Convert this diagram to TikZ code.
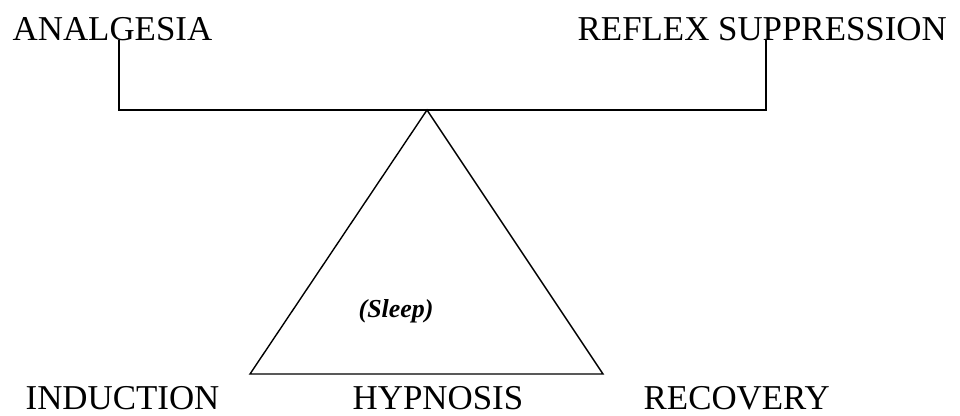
\documentclass[tikz,border=0pt]{standalone}
\usepackage{fontspec}
\setmainfont{Liberation Serif}
\begin{document}
\begin{tikzpicture}[x=1bp,y=-1bp,line width=1.4bp,
	lbl/.style={anchor=base west,inner sep=0pt,font=\fontsize{35}{40}\selectfont}]
	\useasboundingbox (0,0) rectangle (960,415);
	% labels
	\node[lbl] (ana) at (12,40) {ANALGESIA};
	\node[lbl] (ref) at (577,40) {REFLEX SUPPRESSION};
	\node[lbl] (ind) at (25,409) {INDUCTION};
	\node[lbl] (hyp) at (352,409) {HYPNOSIS};
	\node[lbl] (rec) at (643,409) {RECOVERY};
	\node[anchor=base west,inner sep=0pt,font=\fontsize{26}{30}\selectfont\bfseries\itshape] (slp) at (358,317) {(Sleep)};
	% beam and fulcrum
	\coordinate (bl) at (119,110);
	\coordinate (br) at (766,110);
	\coordinate (top) at (427,110);
	\coordinate (lft) at (250,374);
	\coordinate (rgt) at (603,374);
	\draw (ana.base -| bl) -- (bl) -- (br) -- (ref.base -| br);
	\draw[line join=miter] (top) -- (lft) -- (rgt) -- cycle;
\end{tikzpicture}
\end{document}
